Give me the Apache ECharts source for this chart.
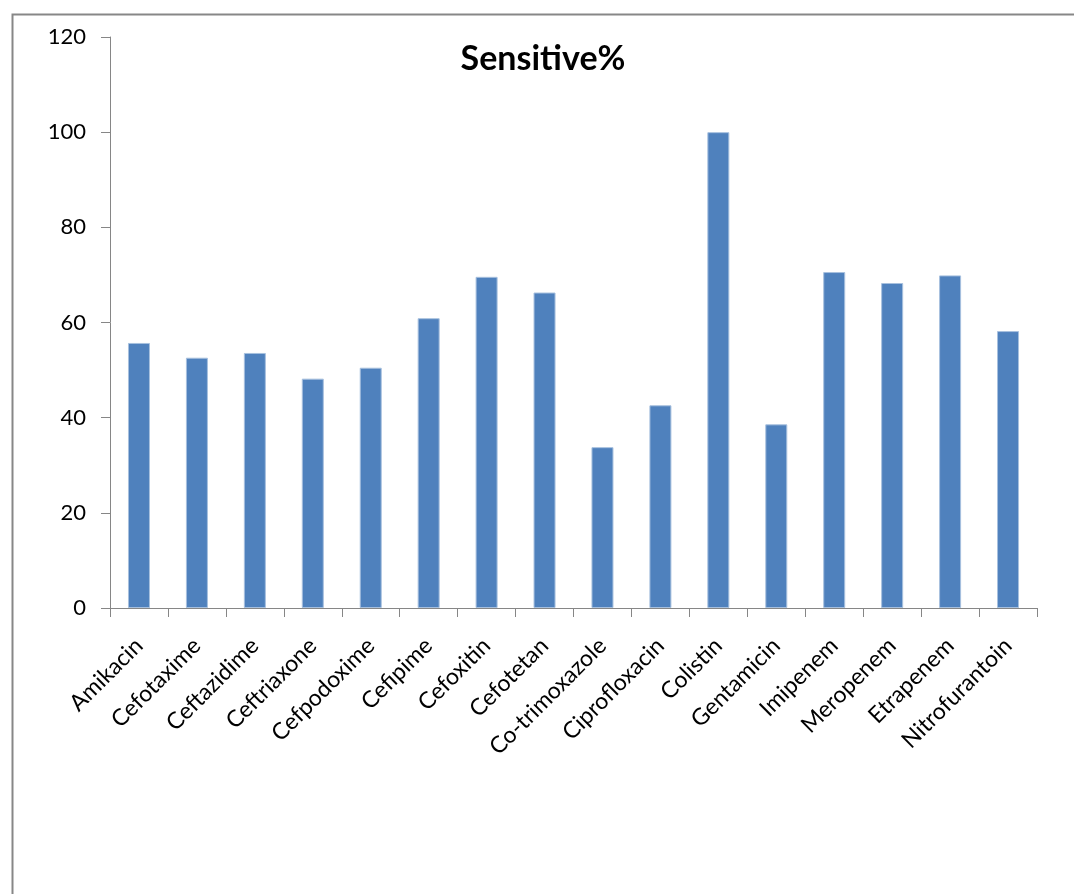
<!DOCTYPE html>
<html>
<head>
<meta charset="utf-8">
<script src="https://cdn.jsdelivr.net/npm/echarts@6/dist/echarts.min.js"></script>
<style>html,body{margin:0;padding:0;background:#fff}#c{width:1074px;height:894px}</style>
</head>
<body>
<div id="c"></div>
<script>
const categories = ['Amikacin','Cefotaxime','Ceftazidime','Ceftriaxone','Cefpodoxime','Cefipime','Cefoxitin','Cefotetan','Co-trimoxazole','Ciprofloxacin','Colistin','Gentamicin','Imipenem','Meropenem','Etrapenem','Nitrofurantoin'];
const sensitive = [55.7, 52.6, 53.6, 48.2, 50.5, 60.9, 69.6, 66.3, 33.8, 42.6, 100, 38.6, 70.6, 68.3, 69.9, 58.2];
const titleText = 'Sensitive%';

const FONT = 'Lato, "Liberation Sans", sans-serif';
const chart = echarts.init(document.getElementById('c'), null, {renderer: 'canvas'});
chart.setOption({
  animation: false,
  backgroundColor: '#fff',
  title: {
    text: titleText,
    left: 538, top: 37,
    textAlign: 'center',
    textStyle: {fontFamily: FONT, fontSize: 34, fontWeight: 'bold', color: '#000'}
  },
  graphic: [{
    type: 'rect', left: 10, top: 12, silent: true,
    shape: {x: 0, y: 0, width: 1080, height: 900},
    style: {fill: 'none', stroke: '#878787', lineWidth: 2}
  }],
  grid: {left: 110, right: 37, top: 37, bottom: 286, containLabel: false},
  xAxis: {
    type: 'category',
    data: categories,
    boundaryGap: true,
    axisLine: {lineStyle: {color: '#868686', width: 1}},
    axisTick: {show: true, alignWithLabel: false, length: 9, lineStyle: {color: '#868686'}},
    axisLabel: {rotate: 45, interval: 0, margin: 34, fontFamily: FONT, fontSize: 23, color: '#000'},
    splitLine: {show: false}
  },
  yAxis: {
    type: 'value',
    min: 0, max: 120, interval: 20,
    axisLine: {show: true, lineStyle: {color: '#868686', width: 1}},
    axisTick: {show: true, length: 9, lineStyle: {color: '#868686'}},
    axisLabel: {margin: 24, fontFamily: FONT, fontSize: 22, color: '#000'},
    splitLine: {show: false}
  },
  series: [{
    type: 'bar',
    data: sensitive,
    barWidth: 22,
    itemStyle: {color: '#4F81BD', borderColor: '#A7C0DE', borderWidth: 1}
  }]
});
</script>
</body>
</html>
